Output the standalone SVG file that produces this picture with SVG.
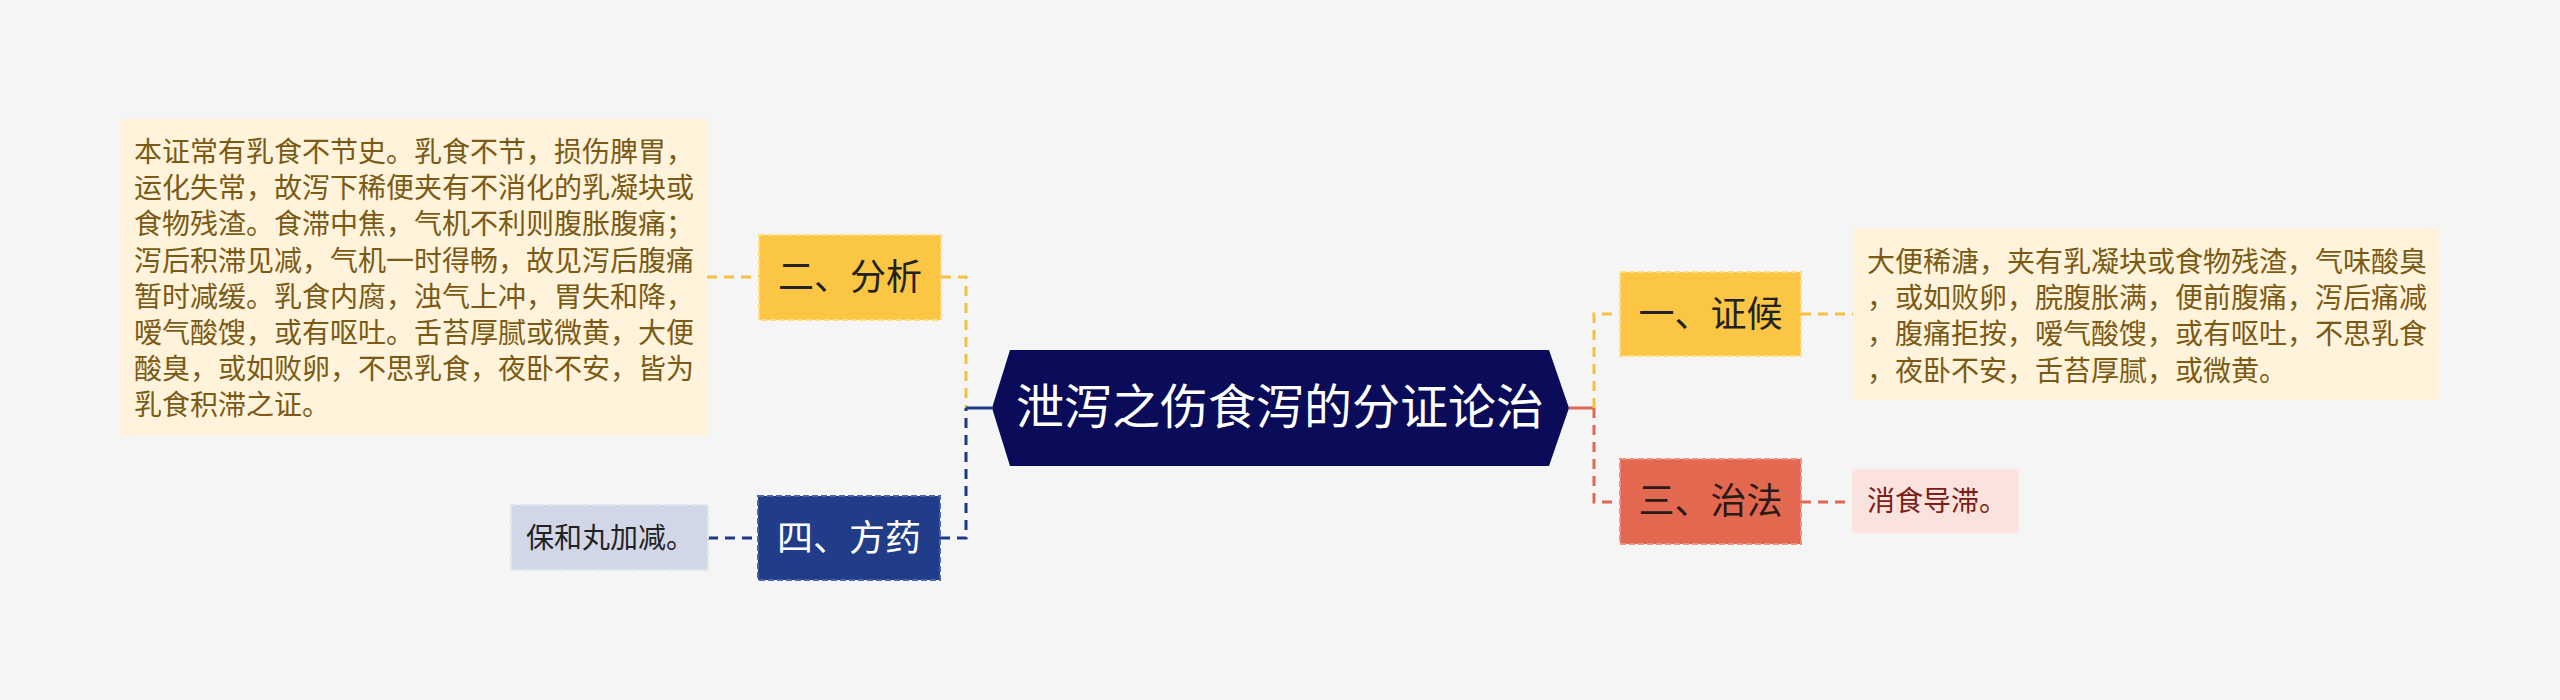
<svg xmlns="http://www.w3.org/2000/svg" width="2560" height="700" viewBox="0 0 2560 700">
<style>
text{font-family:"Noto Sans CJK SC","Noto Sans",sans-serif;}
.desc{font-size:28px;}
.node{font-size:36px;}
.c{fill:none;stroke-width:3;stroke-dasharray:10,7;}
.solid{fill:none;stroke-width:3;}
.y{stroke:#F4C145;}
.n{stroke:#1E3A86;}
.r{stroke:#DE6852;}
</style>
<rect x="0" y="0" width="2560" height="700" fill="#F5F5F5"/>
<g id="connectors">
<path class="c y" d="M707,277 H759"/>
<path class="c y" d="M941,277 H966 V408"/>
<path class="solid n" d="M992,408 H966"/>
<path class="c n" d="M940,538 H966 V408"/>
<path class="c n" d="M708,538 H758"/>
<path class="solid r" d="M1569,408 H1594"/>
<path class="c y" d="M1594,408 V314 H1620"/>
<path class="c r" d="M1594,408 V502 H1620"/>
<path class="c y" d="M1801,314 H1853"/>
<path class="c r" d="M1801,502 H1852"/>
</g>
<g id="root">
<polygon points="992,408 1010,350 1549,350 1569,408 1549,466 1010,466" fill="#0A0C59"/>
<text x="1280" y="424" font-size="48" fill="#FFFFFF" text-anchor="middle">泄泻之伤食泻的分证论治</text>
</g>
<g id="n-fenxi">
<rect x="759" y="235" width="182" height="85" fill="#FBC644" stroke="#FFDD80" stroke-width="2" stroke-dasharray="6,3"/>
<text class="node" x="850" y="290" fill="#222222" text-anchor="middle">二、分析</text>
</g>
<g id="d-fenxi">
<rect x="120" y="119" width="587" height="317" fill="#FFF3DB"/>
<text class="desc" fill="#7A5A14">
<tspan x="134" y="162">本证常有乳食不节史。乳食不节，损伤脾胃，</tspan>
<tspan x="134" y="198.2">运化失常，故泻下稀便夹有不消化的乳凝块或</tspan>
<tspan x="134" y="234.4">食物残渣。食滞中焦，气机不利则腹胀腹痛；</tspan>
<tspan x="134" y="270.6">泻后积滞见减，气机一时得畅，故见泻后腹痛</tspan>
<tspan x="134" y="306.8">暂时减缓。乳食内腐，浊气上冲，胃失和降，</tspan>
<tspan x="134" y="343">嗳气酸馊，或有呕吐。舌苔厚腻或微黄，大便</tspan>
<tspan x="134" y="379.2">酸臭，或如败卵，不思乳食，夜卧不安，皆为</tspan>
<tspan x="134" y="415.4">乳食积滞之证。</tspan>
</text>
</g>
<g id="n-fangyao">
<rect x="758" y="496" width="182" height="84" fill="#213D8A" stroke="#4A64A8" stroke-width="2" stroke-dasharray="6,3"/>
<text class="node" x="849" y="551" fill="#FFFFFF" text-anchor="middle">四、方药</text>
</g>
<g id="d-fangyao">
<rect x="511" y="505" width="197" height="65" fill="#D2D7E7" stroke="#E2E6F0" stroke-width="2" stroke-dasharray="6,3"/>
<text class="desc" x="526" y="548" fill="#222222">保和丸加减。</text>
</g>
<g id="n-zhenghou">
<rect x="1620" y="272" width="181" height="84" fill="#FBC644" stroke="#FFDD80" stroke-width="2" stroke-dasharray="6,3"/>
<text class="node" x="1710.5" y="327" fill="#222222" text-anchor="middle">一、证候</text>
</g>
<g id="d-zhenghou">
<rect x="1853" y="228" width="586" height="172" fill="#FFF3DB"/>
<text class="desc" fill="#7A5A14">
<tspan x="1867" y="272">大便稀溏，夹有乳凝块或食物残渣，气味酸臭</tspan>
<tspan x="1867" y="308.2">，或如败卵，脘腹胀满，便前腹痛，泻后痛减</tspan>
<tspan x="1867" y="344.4">，腹痛拒按，嗳气酸馊，或有呕吐，不思乳食</tspan>
<tspan x="1867" y="380.6">，夜卧不安，舌苔厚腻，或微黄。</tspan>
</text>
</g>
<g id="n-zhifa">
<rect x="1620" y="459" width="181" height="85" fill="#E2694F" stroke="#EE9382" stroke-width="2" stroke-dasharray="6,3"/>
<text class="node" x="1710.5" y="514" fill="#2A1A18" text-anchor="middle">三、治法</text>
</g>
<g id="d-zhifa">
<rect x="1852" y="469" width="167" height="64" fill="#FAE2DE" stroke="#FCEDEA" stroke-width="2" stroke-dasharray="6,3"/>
<text class="desc" x="1867" y="511" fill="#7A1E16">消食导滞。</text>
</g>
</svg>
